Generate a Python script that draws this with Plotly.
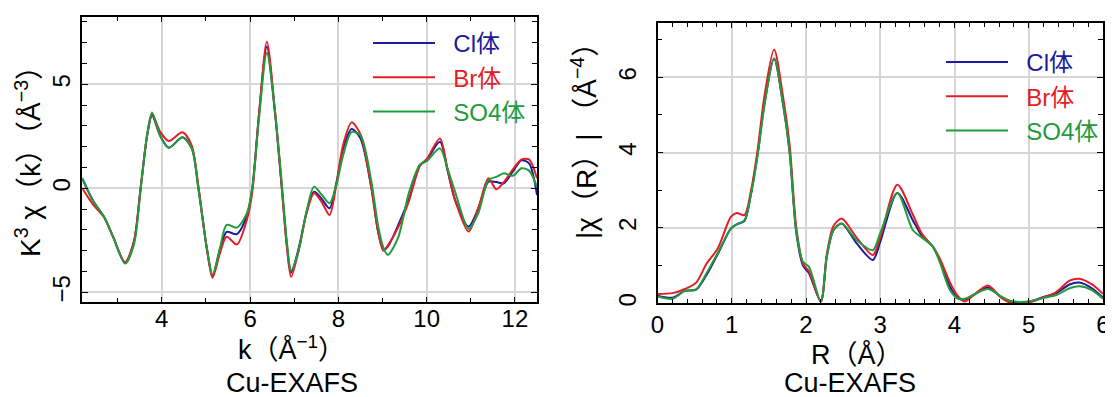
import plotly.graph_objects as go

# ---------------- data: k-space (left panel) ----------------
k_vals = [2.2, 2.45, 2.7, 2.9, 3.17, 3.37, 3.52, 3.67, 3.78, 3.97, 4.16, 4.47, 4.68, 4.83,
          5.02, 5.15, 5.32, 5.47, 5.7, 5.93, 6.05, 6.2, 6.38, 6.57, 6.72, 6.84, 6.93, 7.1,
          7.28, 7.45, 7.62, 7.8, 7.96, 8.11, 8.3, 8.5, 8.75, 8.9, 9.02, 9.12, 9.35, 9.6,
          9.85, 10.0, 10.3, 10.48, 10.65, 10.95, 11.17, 11.4, 11.58, 11.75, 11.95, 12.15,
          12.32, 12.5]
chi_cl = [0.45, -0.62, -1.4, -2.35, -3.6, -2.56, 0.0, 2.56, 3.5, 2.5, 1.95, 2.45, 1.92, 0.0,
          -2.88, -4.2, -2.95, -2.1, -2.2, -1.3, 0.0, 3.5, 6.8, 3.5, 0.0, -2.85, -4.05, -2.9,
          -1.15, -0.16, -0.5, -0.96, 0.32, 1.92, 2.85, 2.4, 0.0, -2.08, -2.95, -2.8, -1.8, -0.5,
          1.1, 1.36, 2.24, 0.8, -0.6, -1.84, -0.96, 0.32, 0.3, 0.24, 0.8, 1.35,
          1.2, -0.32]
chi_br = [0.0, -0.8, -1.4, -2.35, -3.55, -2.56, 0.0, 2.56, 3.55, 2.7, 2.27, 2.69, 2.05, 0.1,
          -2.88, -4.3, -3.1, -2.33, -2.7, -1.5, -0.2, 3.5, 7.05, 3.6, 0.0, -2.95, -4.25, -3.0,
          -1.2, -0.24, -0.65, -1.28, 0.25, 2.1, 3.17, 2.6, 0.0, -2.08, -3.0, -2.75, -1.9, -0.6,
          1.1, 1.4, 2.4, 0.85, -0.6, -2.08, -0.96, 0.48, -0.05, 0.3, 0.9, 1.39,
          1.39, 0.48]
chi_so4 = [0.5, -0.62, -1.4, -2.35, -3.62, -2.7, -0.1, 2.6, 3.65, 2.5, 1.95, 2.45, 1.92, 0.0,
           -2.85, -4.15, -2.85, -1.76, -1.89, -1.2, 0.0, 3.3, 6.5, 3.6, 0.2, -2.7, -3.95, -3.0,
           -1.1, 0.08, -0.3, -0.72, 0.2, 1.6, 2.7, 2.55, 0.3, -1.8, -2.85, -3.2, -2.4, -0.2,
           1.15, 1.3, 1.92, 0.9, -0.2, -1.95, -1.2, 0.4, 0.55, 0.72, 0.6, 0.96,
           0.85, 0.08]

# ---------------- data: R-space (right panel) ----------------
r_vals = [0.0, 0.2, 0.37, 0.52, 0.66, 0.81, 0.99, 1.07, 1.17, 1.26, 1.35, 1.44, 1.57, 1.69,
          1.78, 1.87, 1.96, 2.04, 2.2, 2.28, 2.37, 2.48, 2.68, 2.9, 3.0, 3.23, 3.44, 3.56,
          3.71, 3.8, 3.94, 4.05, 4.14, 4.25, 4.45, 4.63, 4.77, 5.0, 5.19, 5.37, 5.55, 5.68,
          5.85, 6.0]
ft_cl = [0.2, 0.15, 0.33, 0.36, 0.75, 1.3, 1.99, 2.1, 2.18, 2.92, 3.98, 5.3, 6.5, 5.3,
         4.0, 1.86, 1.0, 0.8, 0.05, 1.24, 1.94, 2.12, 1.6, 1.15, 1.63, 2.93, 2.2, 1.79,
         1.5, 1.15, 0.44, 0.13, 0.1, 0.22, 0.42, 0.16, 0.04, 0.04, 0.16, 0.27, 0.5, 0.55,
         0.4, 0.15]
ft_br = [0.25, 0.27, 0.38, 0.55, 1.05, 1.45, 2.3, 2.4, 2.34, 3.0, 4.1, 5.5, 6.74, 5.5,
         4.2, 2.0, 1.05, 0.85, 0.05, 1.3, 2.05, 2.25, 1.75, 1.28, 1.75, 3.15, 2.35, 1.85,
         1.5, 1.2, 0.55, 0.18, 0.05, 0.2, 0.47, 0.15, 0.0, 0.02, 0.15, 0.3, 0.6, 0.65,
         0.5, 0.25]
ft_so4 = [0.18, 0.12, 0.33, 0.37, 0.8, 1.33, 1.99, 2.1, 2.2, 2.9, 3.95, 5.25, 6.5, 5.3,
          4.0, 1.9, 1.1, 0.97, 0.05, 1.24, 1.94, 2.12, 1.68, 1.41, 1.86, 2.93, 1.94, 1.75,
          1.5, 1.1, 0.35, 0.12, 0.12, 0.22, 0.38, 0.18, 0.06, 0.05, 0.14, 0.22, 0.4, 0.45,
          0.35, 0.12]

names = ["Cl体", "Br体", "SO4体"]
colors = ["#1c1c9c", "#e41e26", "#239a3b"]

TXT_FONT = "Liberation Sans, Noto Sans CJK JP, sans-serif"
NUM_FONT = "Liberation Sans, Arial, sans-serif"
GAP = "\u00a0\u00a0"

fig = go.Figure()
for name, col, ys in zip(names, colors, [chi_cl, chi_br, chi_so4]):
    fig.add_trace(go.Scatter(x=k_vals, y=ys, mode="lines",
                             name=f'{GAP}<span style="color:{col}">{name}</span>',
                             line=dict(color=col, width=2, shape="spline", smoothing=0.8),
                             xaxis="x", yaxis="y", legend="legend"))
for name, col, ys in zip(names, colors, [ft_cl, ft_br, ft_so4]):
    fig.add_trace(go.Scatter(x=r_vals, y=ys, mode="lines",
                             name=f'{GAP}<span style="color:{col}">{name}</span>',
                             line=dict(color=col, width=2, shape="spline", smoothing=0.8),
                             xaxis="x2", yaxis="y2", legend="legend2"))

# The page body adds an 8 px margin; the figure is sized to fit the window after it.
OFF = 8
W, H = 1113 - OFF, 397 - OFF


def px(x):
    return (x - OFF) / W


def py(y):
    return (H - (y - OFF)) / H


axis_common = dict(showline=True, linecolor="black", linewidth=1.5, mirror="allticks",
                   ticks="inside", ticklen=6, tickwidth=1.2, tickcolor="black",
                   showgrid=True, gridcolor="#d6d6d6", gridwidth=1.5, zeroline=False,
                   automargin=False,
                   tickfont=dict(family=NUM_FONT, size=24, color="black"))
minor_common = dict(ticks="inside", ticklen=5, tickcolor="black", showgrid=False)

fig.update_layout(
    width=W, height=H, margin=dict(l=0, r=0, t=0, b=0, autoexpand=False),
    paper_bgcolor="white", plot_bgcolor="white",
    xaxis=dict(domain=[px(82.3), px(537)], range=[2.2, 12.5], tick0=0, dtick=2,
               minor=dict(dtick=1, **minor_common),
               ticklabelstandoff=-6, anchor="y", **axis_common),
    yaxis=dict(domain=[py(302.3), py(16.7)], range=[-5.48, 8.25], tick0=0, dtick=5,
               minor=dict(dtick=1, **minor_common),
               tickangle=-90, ticklabelstandoff=1, anchor="x", **axis_common),
    xaxis2=dict(domain=[px(657.5), px(1103)], range=[0, 6], tick0=0, dtick=1,
                minor=dict(dtick=0.2, **minor_common),
                ticklabelstandoff=-1, anchor="y2", **axis_common),
    yaxis2=dict(domain=[py(303.3), py(22.7)], range=[0, 7.45], tick0=0, dtick=2,
                minor=dict(dtick=1, **minor_common),
                tickangle=-90, ticklabelstandoff=10, anchor="x2", **axis_common),
    legend=dict(x=360 / W, y=(H - 13) / H, xanchor="left", yanchor="top", bgcolor="rgba(0,0,0,0)",
                font=dict(family=TXT_FONT, size=24), itemwidth=62, tracegroupgap=0),
    legend2=dict(x=933 / W, y=(H - 32) / H, xanchor="left", yanchor="top", bgcolor="rgba(0,0,0,0)",
                 font=dict(family=TXT_FONT, size=24), itemwidth=62, tracegroupgap=0),
    showlegend=True,
)

annots = [
    dict(text="K<sup>3</sup> χ（k）（Å<sup>−3</sup>）", x=20 / W, y=(H - 147) / H, textangle=-90, size=28),
    dict(text="k（Å<sup>−1</sup>）", x=283 / W, y=(H - 340) / H, size=27),
    dict(text="Cu-EXAFS", x=284 / W, y=(H - 374.5) / H, size=27),
    dict(text="|χ（R）| （Å<sup>−4</sup>）", x=576 / W, y=(H - 126) / H, textangle=-90, size=28),
    dict(text="R（Å）", x=849 / W, y=(H - 346) / H, size=27),
    dict(text="Cu-EXAFS", x=842 / W, y=(H - 374.5) / H, size=27),
]
for a in annots:
    size = a.pop("size")
    fig.add_annotation(xref="paper", yref="paper", showarrow=False, xanchor="center",
                       yanchor="middle", font=dict(family=TXT_FONT, size=size, color="black"), **a)

fig.write_html("out.html")
